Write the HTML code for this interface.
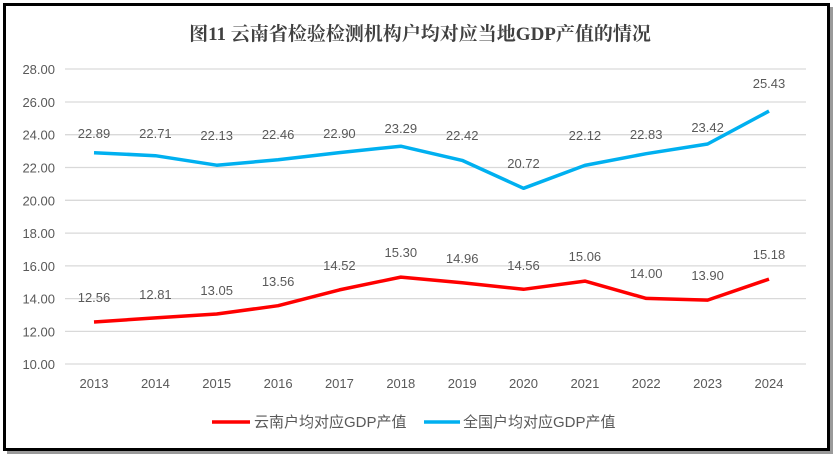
<!DOCTYPE html>
<html><head><meta charset="utf-8"><style>
html,body{margin:0;padding:0;background:#fff;}
svg{display:block;}
text{font-family:"Liberation Sans","Noto Sans CJK SC",sans-serif;fill:#595959;}
</style></head><body>
<svg width="840" height="462" viewBox="0 0 840 462" xmlns="http://www.w3.org/2000/svg">
<rect x="0" y="0" width="840" height="462" fill="#fff"/>
<rect x="7" y="7" width="826" height="447" fill="#9a9a9a"/>
<rect x="4.5" y="4.5" width="824" height="445" fill="#fff" stroke="#000" stroke-width="3"/>
<text x="420" y="40" text-anchor="middle" style="font-family:'Liberation Serif','Noto Serif CJK SC',serif;font-weight:bold;font-size:19px;fill:#404040">图11 云南省检验检测机构户均对应当地GDP产值的情况</text>
<g stroke="#d9d9d9" stroke-width="1.3">
<line x1="65" x2="806" y1="69" y2="69"/><line x1="65" x2="806" y1="102" y2="102"/>
<line x1="65" x2="806" y1="134.7" y2="134.7"/><line x1="65" x2="806" y1="167.5" y2="167.5"/>
<line x1="65" x2="806" y1="200.3" y2="200.3"/><line x1="65" x2="806" y1="233.1" y2="233.1"/>
<line x1="65" x2="806" y1="265.9" y2="265.9"/><line x1="65" x2="806" y1="298.6" y2="298.6"/>
<line x1="65" x2="806" y1="331.4" y2="331.4"/><line x1="65" x2="806" y1="364" y2="364"/>
</g>
<g font-size="13" text-anchor="end">
<text x="55" y="74">28.00</text><text x="55" y="107">26.00</text><text x="55" y="139.7">24.00</text>
<text x="55" y="172.5">22.00</text><text x="55" y="205.3">20.00</text><text x="55" y="238.1">18.00</text>
<text x="55" y="270.9">16.00</text><text x="55" y="303.6">14.00</text><text x="55" y="336.4">12.00</text>
<text x="55" y="369">10.00</text>
</g>
<g font-size="13" text-anchor="middle">
<text x="94" y="388">2013</text><text x="155.4" y="388">2014</text><text x="216.7" y="388">2015</text>
<text x="278.1" y="388">2016</text><text x="339.4" y="388">2017</text><text x="400.8" y="388">2018</text>
<text x="462.2" y="388">2019</text><text x="523.5" y="388">2020</text><text x="584.9" y="388">2021</text>
<text x="646.2" y="388">2022</text><text x="707.6" y="388">2023</text><text x="769" y="388">2024</text>
</g>
<polyline fill="none" stroke="#00b0f0" stroke-width="3.5" stroke-linejoin="round" points="94,152.7 155.4,155.7 216.7,165.2 278.1,159.8 339.4,152.6 400.8,146.2 462.2,160.4 523.5,188.3 584.9,165.4 646.2,153.7 707.6,144 769,111.1"/>
<polyline fill="none" stroke="#ff0000" stroke-width="3.5" stroke-linejoin="round" points="94,322 155.4,317.9 216.7,314 278.1,305.7 339.4,289.9 400.8,277.1 462.2,282.7 523.5,289.3 584.9,281.1 646.2,298.4 707.6,300.1 769,279.1"/>
<g font-size="13" text-anchor="middle" style="fill:#404040">
<text x="94" y="138">22.89</text><text x="155.4" y="138">22.71</text><text x="216.7" y="140">22.13</text>
<text x="278.1" y="139">22.46</text><text x="339.4" y="138">22.90</text><text x="400.8" y="133">23.29</text>
<text x="462.2" y="140">22.42</text><text x="523.5" y="168">20.72</text><text x="584.9" y="140">22.12</text>
<text x="646.2" y="139">22.83</text><text x="707.6" y="132">23.42</text><text x="769" y="88">25.43</text>
<text x="94" y="302">12.56</text><text x="155.4" y="299">12.81</text><text x="216.7" y="295">13.05</text>
<text x="278.1" y="286">13.56</text><text x="339.4" y="270">14.52</text><text x="400.8" y="257">15.30</text>
<text x="462.2" y="263">14.96</text><text x="523.5" y="270">14.56</text><text x="584.9" y="261">15.06</text>
<text x="646.2" y="278">14.00</text><text x="707.6" y="280">13.90</text><text x="769" y="259">15.18</text>
</g>
<line x1="212" x2="250" y1="422" y2="422" stroke="#ff0000" stroke-width="3.5"/>
<text x="254" y="427" font-size="15">云南户均对应GDP产值</text>
<line x1="424" x2="460" y1="422" y2="422" stroke="#00b0f0" stroke-width="3.5"/>
<text x="463" y="427" font-size="15">全国户均对应GDP产值</text>
</svg>
</body></html>
